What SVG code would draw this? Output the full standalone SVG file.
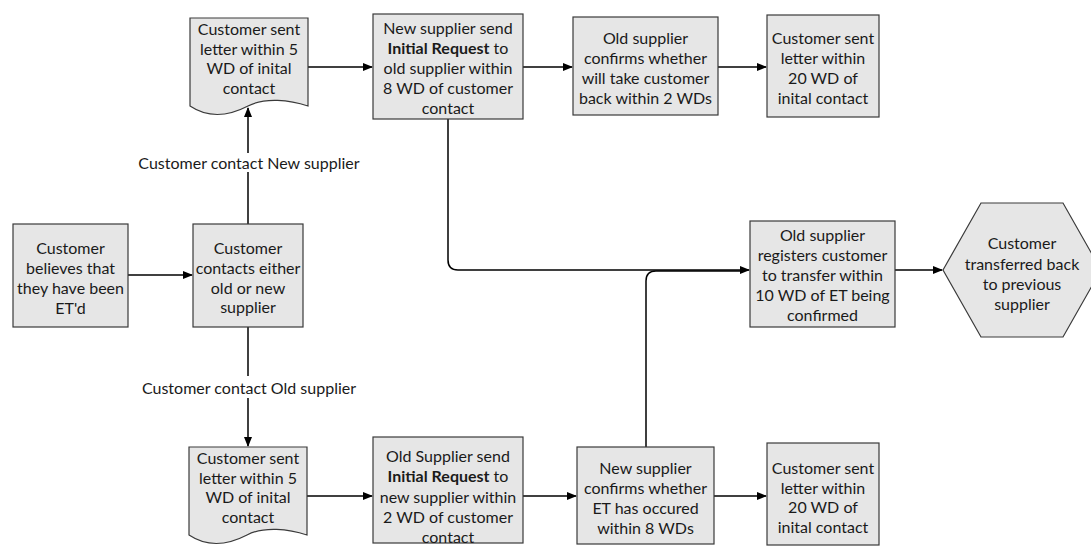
<svg xmlns="http://www.w3.org/2000/svg" width="1091" height="546" viewBox="0 0 1091 546">
<style>
.n{fill:#e6e6e6;stroke:#3a3a3a;stroke-width:1.2}
text{font-family:Lato,"Open Sans","Liberation Sans",sans-serif;font-size:16px;fill:#1a1a1a;text-anchor:middle;dominant-baseline:central}
.c{fill:none;stroke:#000;stroke-width:1.5}
.a{marker-end:url(#ar)}
.b{font-weight:bold}
</style>
<defs>
<marker id="ar" markerWidth="10" markerHeight="8" refX="9" refY="4" orient="auto" markerUnits="userSpaceOnUse">
<path d="M0,0 L10,4 L0,8 Z" fill="#000"/>
</marker>
</defs>
<rect width="1091" height="546" fill="#fff"/>
<g id="connectors">
<path class="c a" d="M128,275 H192"/>
<path class="c" d="M248,224 V172"/>
<path class="c a" d="M248,153 V108"/>
<path class="c" d="M248,327 V376"/>
<path class="c a" d="M248,398 V446"/>
<path class="c a" d="M308,67 H372"/>
<path class="c a" d="M523,67 H572"/>
<path class="c a" d="M718,67 H766"/>
<path class="c a" d="M307,496 H372"/>
<path class="c a" d="M523,496 H576"/>
<path class="c a" d="M714,496 H766"/>
<path class="c a" d="M448,119 V260 Q448,270 458,270 H749"/>
<path class="c" d="M646,447 V281 Q646,271 656,271 H740"/>
<path class="c a" d="M895,270 H942"/>
<text x="249" y="162">Customer contact New supplier</text>
<text x="249" y="387">Customer contact Old supplier</text>
</g>
<g id="n1">
<rect class="n" x="13" y="224" width="115" height="103"/>
<text x="70.5" y="247">Customer</text>
<text x="70.5" y="267">believes that</text>
<text x="70.5" y="287">they have been</text>
<text x="70.5" y="307">ET'd</text>
</g>
<g id="n2">
<rect class="n" x="193" y="224" width="110" height="103"/>
<text x="248" y="247">Customer</text>
<text x="248" y="267">contacts either</text>
<text x="248" y="287">old or new</text>
<text x="248" y="306">supplier</text>
</g>
<g id="n3">
<path class="n" d="M190,18 H308 V106 C290,100 265,97 248,106 C225,118 205,116 190,106 Z"/>
<text x="249" y="28">Customer sent</text>
<text x="249" y="48">letter within 5</text>
<text x="249" y="67">WD of inital</text>
<text x="249" y="87">contact</text>
</g>
<g id="n4">
<rect class="n" x="373" y="14" width="150" height="105"/>
<text x="448" y="27">New supplier send</text>
<text x="448" y="47"><tspan class="b">Initial Request</tspan> to</text>
<text x="448" y="67">old supplier within</text>
<text x="448" y="87">8 WD of customer</text>
<text x="448" y="107">contact</text>
</g>
<g id="n5">
<rect class="n" x="573" y="17" width="145" height="98"/>
<text x="645.5" y="37">Old supplier</text>
<text x="645.5" y="57">confirms whether</text>
<text x="645.5" y="77">will take customer</text>
<text x="645.5" y="97">back within 2 WDs</text>
</g>
<g id="n6">
<rect class="n" x="767" y="15" width="112" height="102"/>
<text x="823" y="37">Customer sent</text>
<text x="823" y="57">letter within</text>
<text x="823" y="77">20 WD of</text>
<text x="823" y="97">inital contact</text>
</g>
<g id="n7">
<rect class="n" x="750" y="221" width="145" height="106"/>
<text x="822.5" y="234">Old supplier</text>
<text x="822.5" y="254">registers customer</text>
<text x="822.5" y="274">to transfer within</text>
<text x="822.5" y="294">10 WD of ET being</text>
<text x="822.5" y="314">confirmed</text>
</g>
<g id="n8">
<path class="n" d="M943,270 L981,203 H1063 L1101,270 L1063,337 H981 Z"/>
<text x="1022" y="242">Customer</text>
<text x="1022" y="263">transferred back</text>
<text x="1022" y="283">to previous</text>
<text x="1022" y="303">supplier</text>
</g>
<g id="n9">
<path class="n" d="M189,447 H307 V535 C289,529 264,526 247,535 C224,547 204,545 189,535 Z"/>
<text x="248" y="457">Customer sent</text>
<text x="248" y="477">letter within 5</text>
<text x="248" y="496">WD of inital</text>
<text x="248" y="516">contact</text>
</g>
<g id="n10">
<rect class="n" x="373" y="437" width="150" height="106"/>
<text x="448" y="455">Old Supplier send</text>
<text x="448" y="475"><tspan class="b">Initial Request</tspan> to</text>
<text x="448" y="496">new supplier within</text>
<text x="448" y="516">2 WD of customer</text>
<text x="448" y="536">contact</text>
</g>
<g id="n11">
<rect class="n" x="577" y="447" width="137" height="97"/>
<text x="645.5" y="467">New supplier</text>
<text x="645.5" y="487">confirms whether</text>
<text x="645.5" y="507">ET has occured</text>
<text x="645.5" y="527">within 8 WDs</text>
</g>
<g id="n12">
<rect class="n" x="767" y="443" width="112" height="102"/>
<text x="823" y="467">Customer sent</text>
<text x="823" y="487">letter within</text>
<text x="823" y="506">20 WD of</text>
<text x="823" y="526">inital contact</text>
</g>
</svg>
